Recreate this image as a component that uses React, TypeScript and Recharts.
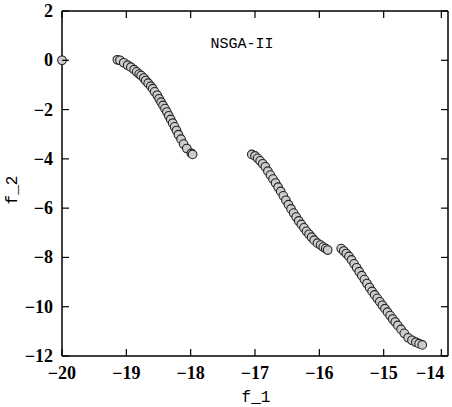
import React from 'react'
import { ScatterChart, Scatter, XAxis, YAxis } from 'recharts'

// f_1 / f_2 values, one list per front segment
const loneF1 = [-20]
const loneF2 = [0]

const frontAF1 = [-19.14, -19.1, -19.04, -18.98, -18.93, -18.88, -18.84, -18.8, -18.77, -18.73, -18.7, -18.66, -18.62, -18.59, -18.56, -18.52, -18.49, -18.46, -18.43, -18.4, -18.37, -18.34, -18.31, -18.28, -18.25, -18.22, -18.19, -18.15, -18.11, -18.06, -17.99, -17.97]
const frontAF2 = [0.02, 0.0, -0.1, -0.2, -0.28, -0.38, -0.47, -0.56, -0.62, -0.72, -0.82, -0.93, -1.05, -1.15, -1.28, -1.42, -1.56, -1.7, -1.83, -1.96, -2.1, -2.25, -2.4, -2.55, -2.7, -2.85, -3.02, -3.2, -3.4, -3.58, -3.78, -3.82]

const frontBF1 = [-17.05, -17.0, -16.96, -16.92, -16.88, -16.84, -16.8, -16.76, -16.72, -16.68, -16.64, -16.6, -16.56, -16.52, -16.48, -16.44, -16.4, -16.36, -16.32, -16.28, -16.24, -16.2, -16.16, -16.12, -16.08, -16.03, -15.98, -15.94, -15.9, -15.87]
const frontBF2 = [-3.82, -3.88, -3.98, -4.08, -4.2, -4.32, -4.5, -4.66, -4.82, -4.98, -5.15, -5.32, -5.5, -5.68, -5.86, -6.03, -6.2, -6.36, -6.52, -6.66, -6.8, -6.94, -7.06, -7.18, -7.3, -7.42, -7.5, -7.58, -7.64, -7.7]

const frontCF1 = [-15.66, -15.62, -15.58, -15.54, -15.5, -15.46, -15.42, -15.38, -15.34, -15.3, -15.26, -15.22, -15.18, -15.14, -15.1, -15.06, -15.02, -14.98, -14.94, -14.9, -14.86, -14.82, -14.78, -14.73, -14.68, -14.62, -14.56, -14.5, -14.45, -14.4]
const frontCF2 = [-7.64, -7.74, -7.84, -7.96, -8.1, -8.26, -8.42, -8.58, -8.74, -8.9, -9.06, -9.22, -9.38, -9.52, -9.66, -9.8, -9.94, -10.08, -10.22, -10.36, -10.5, -10.62, -10.76, -10.92, -11.08, -11.26, -11.36, -11.44, -11.5, -11.55]

const xTicks = [-20, -19, -18, -17, -16, -15, -14]
const yTicks = [2, 0, -2, -4, -6, -8, -10, -12]

const toPoints = (f1: number[], f2: number[]) => f1.map((v, i) => ({ f1: v, f2: f2[i] }))

const allPoints = [
  ...toPoints(loneF1, loneF2),
  ...toPoints(frontAF1, frontAF2),
  ...toPoints(frontBF1, frontBF2),
  ...toPoints(frontCF1, frontCF2)
]

const fmt = (v: number) => String(v).replace('-', '\u2212')
const tickFont = { fontFamily: '"Liberation Serif", serif', fontWeight: 700, fontSize: 18, fill: '#000' }
const monoFont = '"Liberation Mono", monospace'
const TICK = 7

const BottomTick = (props: any) => {
  const { x, y, payload } = props
  // last label sits against the page edge in the reference
  const last = payload.value === xTicks[xTicks.length - 1]
  return (
    <g>
      <line x1={x} y1={y} x2={x} y2={y - TICK} stroke="#000" strokeWidth={1.2} />
      <text x={last ? x + 3 : x} y={y + 23} textAnchor={last ? 'end' : 'middle'} {...tickFont}>{fmt(payload.value)}</text>
    </g>
  )
}

const TopTick = (props: any) => {
  const { x, y } = props
  return <line x1={x} y1={y} x2={x} y2={y + TICK} stroke="#000" strokeWidth={1.2} />
}

const LeftTick = (props: any) => {
  const { x, y, payload } = props
  return (
    <g>
      <line x1={x} y1={y} x2={x + TICK} y2={y} stroke="#000" strokeWidth={1.2} />
      <text x={x - 9} y={y + 6} textAnchor="end" {...tickFont}>{fmt(payload.value)}</text>
    </g>
  )
}

const RightTick = (props: any) => {
  const { x, y } = props
  return <line x1={x} y1={y} x2={x - TICK} y2={y} stroke="#000" strokeWidth={1.2} />
}

const Dot = (props: any) => {
  const { cx, cy } = props
  return <circle cx={cx} cy={cy} r={4.3} fill="#cccccc" stroke="#222" strokeWidth={1.1} />
}

const NoDot = () => <g />

export default function App() {
  const axisLine = { stroke: '#000', strokeWidth: 1.5 }
  return (
    <div style={{ position: 'absolute', left: 0, top: 0, background: '#fff' }}>
      <ScatterChart width={452} height={407} margin={{ top: 10, right: 3, bottom: 0, left: 0 }}>
        <XAxis
          xAxisId="b"
          type="number"
          dataKey="f1"
          domain={[-20, -14]}
          ticks={xTicks}
          height={51}
          tickSize={0}
          tickMargin={0}
          tickLine={false}
          axisLine={axisLine}
          tick={<BottomTick />}
        />
        <XAxis
          xAxisId="t"
          orientation="top"
          type="number"
          dataKey="f1"
          domain={[-20, -14]}
          ticks={xTicks}
          height={1}
          tickSize={0}
          tickMargin={0}
          tickLine={false}
          axisLine={axisLine}
          tick={<TopTick />}
        />
        <YAxis
          yAxisId="l"
          type="number"
          dataKey="f2"
          domain={[-12, 2]}
          ticks={yTicks}
          width={62}
          tickSize={0}
          tickMargin={0}
          tickLine={false}
          axisLine={axisLine}
          tick={<LeftTick />}
        />
        <YAxis
          yAxisId="r"
          orientation="right"
          type="number"
          dataKey="f2"
          domain={[-12, 2]}
          ticks={yTicks}
          width={1}
          tickSize={0}
          tickMargin={0}
          tickLine={false}
          axisLine={axisLine}
          tick={<RightTick />}
        />
        {/* invisible series so the mirrored top/right axes get drawn */}
        <Scatter
          xAxisId="t"
          yAxisId="r"
          data={allPoints}
          shape={<NoDot />}
          isAnimationActive={false}
        />
        <Scatter
          xAxisId="b"
          yAxisId="l"
          data={allPoints}
          shape={<Dot />}
          isAnimationActive={false}
        />
        <text x={242} y={48} textAnchor="middle" fontFamily={monoFont} fontSize={15} fill="#000">NSGA-II</text>
        <text x={256} y={402} textAnchor="middle" fontFamily={monoFont} fontSize={16} fill="#000">f_1</text>
        <text x={17} y={190} textAnchor="middle" fontFamily={monoFont} fontSize={16} fill="#000" transform="rotate(-90, 17, 190)">f_2</text>
      </ScatterChart>
    </div>
  )
}
